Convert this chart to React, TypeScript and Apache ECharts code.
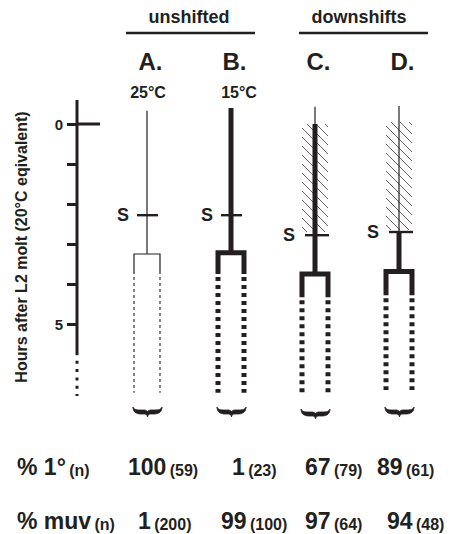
import React, { useEffect, useRef } from "react";
import * as echarts from "echarts";

// ---- data (hours after L2 molt, 20°C equivalent) ----
const columns = ["A.", "B.", "C.", "D."];
const temperatures = ["25°C", "15°C", "", ""];
const lineTop = [-0.33, -0.4, -0.43, -0.45];
const thickFrom: (number | null)[] = [null, -0.4, 0, 2.7];
const hatchFrom: (number | null)[] = [null, null, 0, -0.05];
const hatchTo: (number | null)[] = [null, null, 2.7, 2.65];
const sMark = [2.28, 2.28, 2.78, 2.7];
const branchAt = [3.25, 3.22, 3.75, 3.69];
const solidTo = [3.75, 3.75, 4.33, 4.28];
const dottedTo = [6.72, 6.72, 6.72, 6.65];
const braceAt = [7.2, 7.2, 7.25, 7.2];
const axisTicks = [0, 1, 2, 3, 4, 5];
const axisLabels = [0, 5];
const axisSolid = [-0.6, 5.78];
const axisDotted = [5.92, 6.8];
const pctPrimary = [100, 1, 67, 89];
const nPrimary = [59, 23, 79, 61];
const pctMuv = [1, 99, 97, 94];
const nMuv = [200, 100, 64, 48];
const groups = ["unshifted", "downshifts"];

const INK = "#231f20";
const FONT = "'Liberation Sans', Arial, Helvetica, sans-serif";
const BRACE =
  "M0,0 C0,5 3,7 8,7 L11,7 C13,7 14,8.5 14,10 C14,8.5 15,7 17,7 L20,7 C25,7 28,5 28,0 C27,2.5 25,3 20,3 L17,3 C15.5,3 14,4 14,5 C14,4 12.5,3 11,3 L8,3 C3,3 1,2.5 0,0 Z";

function seg(x1: number, y1: number, x2: number, y2: number, style: any) {
  return { type: "line", shape: { x1, y1, x2, y2 }, style: { stroke: INK, ...style } };
}

export default function App() {
  const ref = useRef<HTMLDivElement>(null);
  useEffect(() => {
    document.body.style.margin = "0";
    const chart = echarts.init(ref.current!, null, { renderer: "svg" });

    const renderColumn = (params: any, api: any) => {
      const i = api.value(0);
      const x = api.coord([i, 0])[0];
      const Y = (h: number) => api.coord([i, h])[1];
      const kids: any[] = [];
      const half = 13;
      const thick = thickFrom[i] !== null;
      const bw = thick ? 5 : 1.2;

      // hatching
      const hf = hatchFrom[i];
      const ht = hatchTo[i];
      if (hf !== null && ht !== null) {
        const x0 = x - 13, x1 = x + 13, y0 = Y(hf), y1 = Y(ht);
        for (let c = y0 - x1 + 3; c < y1 - x0; c += 9) {
          const sx = Math.max(x0, y0 - c);
          const ex = Math.min(x1, y1 - c);
          if (ex > sx + 1) kids.push(seg(sx, sx + c, ex, ex + c, { stroke: "#555", lineWidth: 0.9 }));
        }
      }
      // temperature label
      if (temperatures[i]) {
        kids.push({
          type: "text",
          style: {
            text: temperatures[i], x: x + (i === 0 ? 1 : 8), y: Y(-0.78),
            align: "center", verticalAlign: "middle",
            font: `bold 16px ${FONT}`, fill: INK,
          },
        });
      }
      // stem
      const tf = thickFrom[i];
      if (tf === null) {
        kids.push(seg(x, Y(lineTop[i]), x, Y(branchAt[i]), { lineWidth: 1.2 }));
      } else {
        if (tf > lineTop[i]) kids.push(seg(x, Y(lineTop[i]), x, Y(tf), { lineWidth: 1.2 }));
        kids.push(seg(x, Y(tf), x, Y(branchAt[i]), { lineWidth: 5 }));
      }
      // S mark
      kids.push(seg(x - 10, Y(sMark[i]), x + (i < 2 ? 11 : 14), Y(sMark[i]), { lineWidth: 2.4 }));
      kids.push({
        type: "text",
        style: {
          text: "S", x: x - (i < 2 ? 24 : 26), y: Y(sMark[i]),
          align: "center", verticalAlign: "middle",
          font: `bold 18px ${FONT}`, fill: INK,
        },
      });
      // branch box
      kids.push({
        type: "polyline",
        shape: {
          points: [
            [x - half, Y(solidTo[i])],
            [x - half, Y(branchAt[i])],
            [x + half, Y(branchAt[i])],
            [x + half, Y(solidTo[i])],
          ],
        },
        style: { stroke: INK, lineWidth: bw, fill: "none", lineJoin: "miter", lineCap: "butt" },
      });
      // dotted continuation
      const dash = thick ? [4, 4] : [3, 3];
      const start = Y(solidTo[i]) + 3;
      [-half, half].forEach((dx) => {
        kids.push(
          seg(x + dx, start, x + dx, Y(dottedTo[i]), {
            lineWidth: thick ? 5 : 1.1, lineDash: dash, lineCap: "butt",
          })
        );
      });
      // brace
      kids.push({
        type: "path",
        shape: { pathData: BRACE, x: x - 14, y: Y(braceAt[i]) - 5, width: 29, height: 10, layout: "cover" },
        style: { fill: INK, stroke: INK, lineWidth: 0.8 },
      });
      return { type: "group", children: kids };
    };

    const renderAxis = (params: any, api: any) => {
      const ax = params.coordSys.x - 28;
      const Y = (h: number) => api.coord([0, h])[1];
      return {
        type: "group",
        children: [
          seg(ax, Y(axisSolid[0]), ax, Y(axisSolid[1]), { lineWidth: 3 }),
          seg(ax, Y(axisDotted[0]), ax, Y(axisDotted[1]), { lineWidth: 3, lineDash: [3, 5.3], lineCap: "butt" }),
          seg(ax, Y(0), ax + 23, Y(0), { lineWidth: 3 }),
        ],
      };
    };

    const rowText = (label: string, vals: number[], ns: number[], y: number, xs: number[]) => {
      const rich = {
        b: { font: `bold 23px ${FONT}`, fill: INK, lineHeight: 24, verticalAlign: "bottom" },
        s: { font: `bold 16px ${FONT}`, fill: INK, lineHeight: 24, verticalAlign: "bottom" },
      };
      const els: any[] = [
        {
          type: "text", left: 17, top: y - 12,
          style: { text: `{b|${label}} {s|(n)}`, rich, fill: INK },
        },
      ];
      vals.forEach((v, k) => {
        els.push({
          type: "text", left: xs[k], top: y - 12,
          style: { text: `{b|${v}} {s|(${ns[k]})}`, rich, fill: INK },
        });
      });
      return els;
    };

    const option: any = {
      animation: false,
      grid: { left: 105, width: 336, top: 84, height: 326 },
      xAxis: {
        type: "category",
        data: columns,
        position: "top",
        axisLine: { show: false },
        axisTick: { show: false },
        splitLine: { show: false },
        axisLabel: {
          fontSize: 24, fontWeight: "bold", color: INK, fontFamily: FONT, margin: 11,
          padding: [0, 0, 0, 7],
        },
      },
      yAxis: {
        type: "value",
        inverse: true,
        min: -1,
        max: 7.15,
        position: "left",
        offset: 28,
        splitLine: { show: false },
        axisLine: { show: false },
        axisTick: { show: true, customValues: axisTicks, length: 10, lineStyle: { width: 3, color: INK } },
        axisLabel: {
          customValues: axisLabels, margin: 14, fontSize: 15, fontWeight: "bold", color: INK, fontFamily: FONT,
        },
        name: "Hours after L2 molt (20°C eqivalent)",
        nameLocation: "middle",
        nameRotate: 90,
        nameGap: 48,
        nameTextStyle: { fontSize: 16, fontWeight: "bold", color: INK, fontFamily: FONT },
      },
      series: [
        {
          type: "custom",
          renderItem: renderAxis,
          data: [[0]],
          encode: { x: 0 },
          silent: true,
        },
        {
          type: "custom",
          renderItem: renderColumn,
          data: columns.map((_, i) => [i]),
          encode: { x: 0 },
          silent: true,
        },
      ],
      graphic: [
        {
          type: "text", x: 189, y: 17,
          style: { text: groups[0], align: "center", verticalAlign: "middle", font: `bold 18px ${FONT}`, fill: INK },
        },
        { type: "line", shape: { x1: 126, y1: 33, x2: 255, y2: 33 }, style: { stroke: INK, lineWidth: 2.7 } },
        {
          type: "text", x: 359, y: 17,
          style: { text: groups[1], align: "center", verticalAlign: "middle", font: `bold 18px ${FONT}`, fill: INK },
        },
        { type: "line", shape: { x1: 299, y1: 33, x2: 428, y2: 33 }, style: { stroke: INK, lineWidth: 2.7 } },
        ...rowText("% 1°", pctPrimary, nPrimary, 467, [128, 232, 305, 377]),
        ...rowText("% muv", pctMuv, nMuv, 521, [138, 221, 305, 387]),
      ],
    };
    chart.setOption(option);
    return () => chart.dispose();
  }, []);
  return <div ref={ref} style={{ width: 451, height: 534 }} />;
}
